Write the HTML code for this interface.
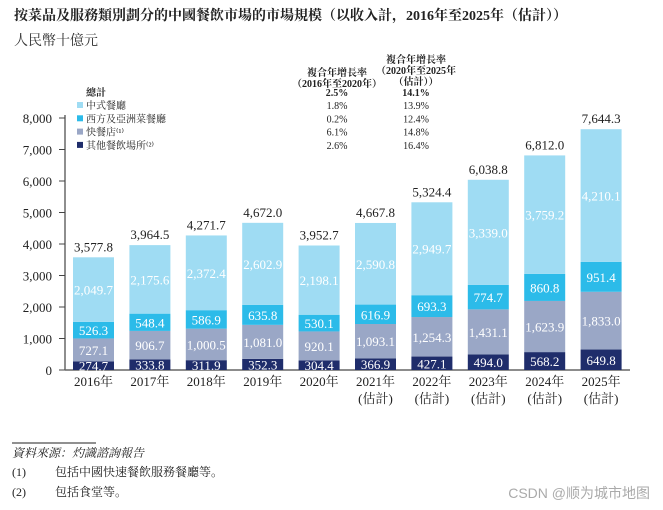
<!DOCTYPE html>
<html><head><meta charset="utf-8"><style>
body{margin:0;background:#fff;width:663px;height:510px;overflow:hidden;font-family:"Liberation Serif","Noto Serif CJK SC",serif;}
svg{position:absolute;left:0;top:0}
</style></head><body>
<svg id="c" width="663" height="510" xmlns="http://www.w3.org/2000/svg" font-family="Liberation Serif, Noto Serif CJK SC, serif">
<text x="14" y="20" font-size="14" font-weight="bold" fill="#222">按菜品及服務類別劃分的中國餐飲市場的市場規模（以收入計，2016年至2025年（估計））</text>
<text x="14" y="45" font-size="14" fill="#333">人民幣十億元</text>
<g font-size="10" fill="#222" text-anchor="middle">
<text x="337" y="76" font-weight="bold">複合年增長率</text>
<text x="337" y="87" font-weight="bold">（2016年至2020年）</text>
<text x="416" y="63" font-weight="bold">複合年增長率</text>
<text x="416" y="74" font-weight="bold">（2020年至2025年</text>
<text x="416" y="85" font-weight="bold">（估計））</text>
</g>
<g id="legend" font-size="10" fill="#222"></g>
<line x1="65" y1="115" x2="65" y2="370" stroke="#444" stroke-width="1.2"/>
<line x1="65" y1="370" x2="630" y2="370" stroke="#666" stroke-width="1.5"/>
<g id="yt" font-size="13" fill="#222"></g>
<g id="bars"></g>
<g id="xl" font-size="13" fill="#222" text-anchor="middle"></g>
<line x1="12" y1="443" x2="96" y2="443" stroke="#222" stroke-width="1"/>
<text x="12" y="457" font-size="12" font-style="italic" fill="#222">資料來源：灼識諮詢報告</text>
<text x="12" y="476" font-size="12" fill="#222">(1)<tspan x="55">包括中國快速餐飲服務餐廳等。</tspan></text>
<text x="12" y="496" font-size="12" fill="#222">(2)<tspan x="55">包括食堂等。</tspan></text>
<text x="650" y="498" font-size="14" fill="#aaa" text-anchor="end" font-family="Liberation Sans, Noto Sans CJK SC, sans-serif">CSDN @顺为城市地图</text>
</svg>
<script>
const years=["2016年","2017年","2018年","2019年","2020年","2021年","2022年","2023年","2024年","2025年"];
const estimated=[false,false,false,false,false,true,true,true,true,true];
const other=[274.7,333.8,311.9,352.3,304.4,366.9,427.1,494.0,568.2,649.8];
const fast=[727.1,906.7,1000.5,1081.0,920.1,1093.1,1254.3,1431.1,1623.9,1833.0];
const western=[526.3,548.4,586.9,635.8,530.1,616.9,693.3,774.7,860.8,951.4];
const chinese=[2049.7,2175.6,2372.4,2602.9,2198.1,2590.8,2949.7,3339.0,3759.2,4210.1];
const totals=[3577.8,3964.5,4271.7,4672.0,3952.7,4667.8,5324.4,6038.8,6812.0,7644.3];
const yTicks=[0,1000,2000,3000,4000,5000,6000,7000,8000];
const legendNames=["中式餐廳","西方及亞洲菜餐廳","快餐店","其他餐飲場所"];
const cagr1=["1.8%","0.2%","6.1%","2.6%"];
const cagr2=["13.9%","12.4%","14.8%","16.4%"];
const totalCagr=["2.5%","14.1%"];
const NS="http://www.w3.org/2000/svg";
const y=v=>370-v*0.0315;
const x=i=>93.5+i*56.4;
const fmt=v=>v.toLocaleString('en-US',{minimumFractionDigits:1,maximumFractionDigits:1});
function el(t,a,p,txt){const e=document.createElementNS(NS,t);for(const k in a)e.setAttribute(k,a[k]);if(txt!==undefined)e.textContent=txt;p.appendChild(e);return e;}
const yt=document.getElementById('yt');
yTicks.forEach(v=>{
 const t=el('text',{x:52,y:y(v)+5,'text-anchor':'end'},yt,v.toLocaleString('en-US'));
 
 
 const l=el('line',{x1:59,x2:65,y1:y(v),y2:y(v),stroke:'#444'},yt);
 
 
});
const series=[other,fast,western,chinese];
const colors=["#1f2d6b","#9aa7c6","#2cbbe9","#9fdcf3"];
const names=["other","fast-food","western-asian","chinese"];
const bars=document.getElementById('bars');
const xl=document.getElementById('xl');
years.forEach((yr,i)=>{
 let base=0;
 series.forEach((s,k)=>{
  const v=s[i];
  const r=el('rect',{x:x(i)-20.5,y:y(base+v),width:41,height:y(base)-y(base+v),fill:colors[k]},bars);
  
  
  const t=el('text',{x:x(i),y:(y(base)+y(base+v))/2+5,'text-anchor':'middle','font-size':13,fill:'#fff'},bars,fmt(v));
  
  
  base+=v;
 });
 const tt=el('text',{x:x(i),y:y(totals[i])-6,'text-anchor':'middle','font-size':13,fill:'#222'},bars,fmt(totals[i]));
 
 
 const xt=el('text',{x:x(i),y:386},xl,yr);
 
 
 if(estimated[i]){
  const e=el('text',{x:x(i),y:403},xl,'(估計)');
  
  
 }
});
const lg=document.getElementById('legend');
let h=el('text',{x:86,y:96,'font-weight':'bold'},lg,'總計');


totalCagr.forEach((c,j)=>{const t=el('text',{x:j?416:337,y:96,'text-anchor':'middle','font-weight':'bold'},lg,c);
 
 });
legendNames.forEach((n,k)=>{
 const yy=109+k*13.3;
 const ci=3-k;
 const sq=el('rect',{x:77,y:yy-7,width:6,height:6,fill:colors[ci]},lg);
 
 
 const t=el('text',{x:86,y:yy},lg,n+(k==2?'⁽¹⁾':k==3?'⁽²⁾':''));
 
 
 const a=el('text',{x:337,y:yy,'text-anchor':'middle'},lg,cagr1[k]);
 
 
 const b=el('text',{x:416,y:yy,'text-anchor':'middle'},lg,cagr2[k]);
 
 
});
</script>
</body></html>
